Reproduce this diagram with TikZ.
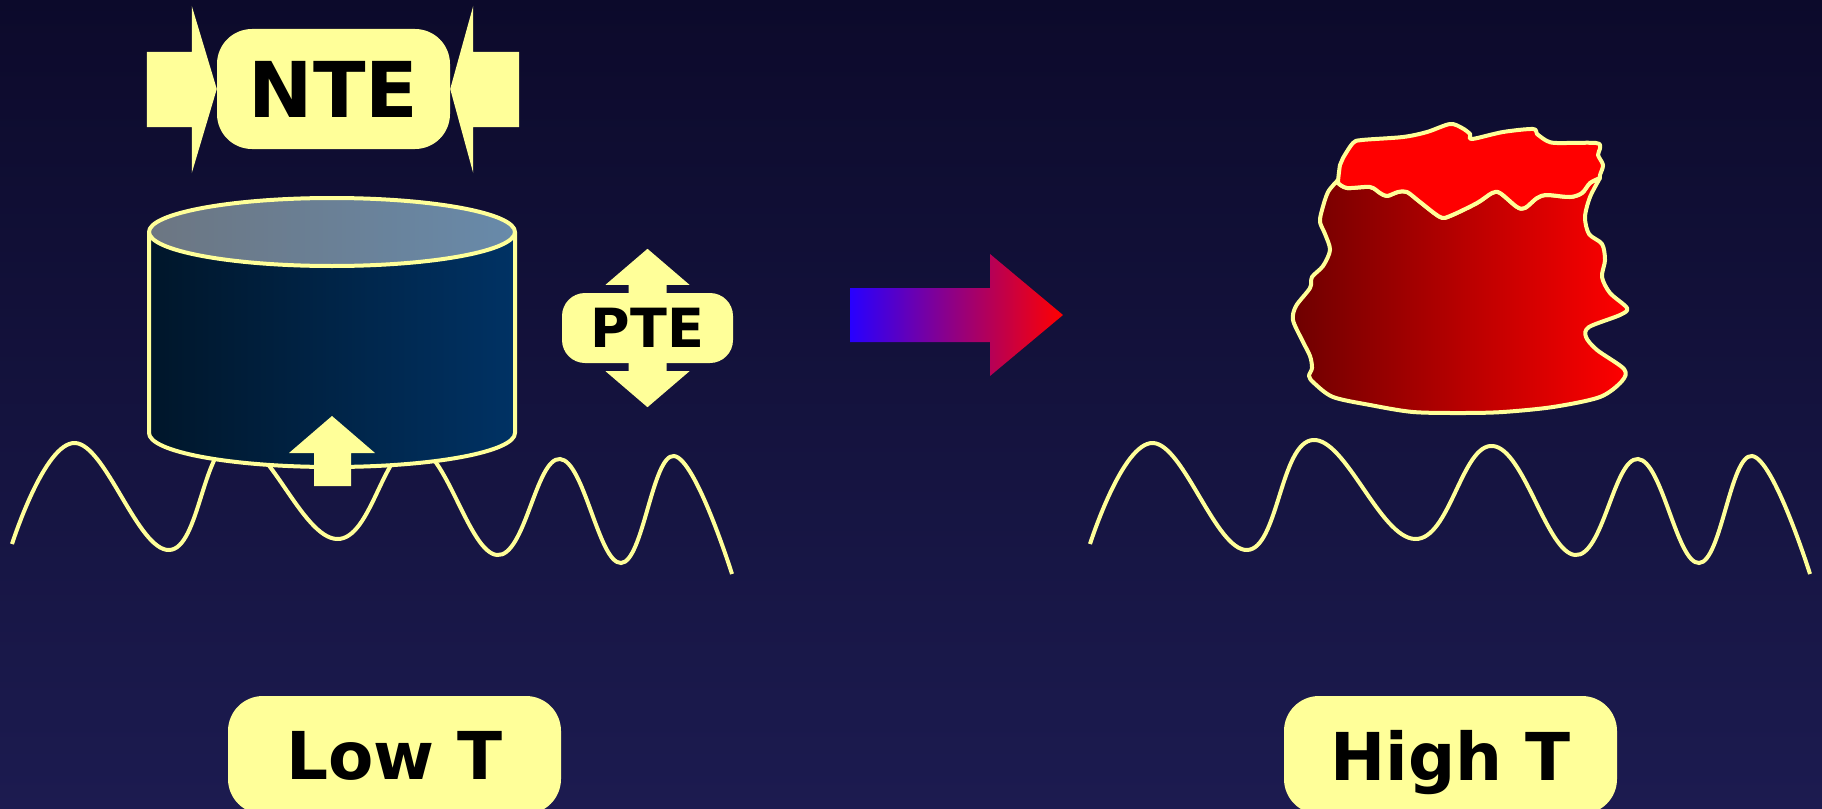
\documentclass[tikz,border=0pt]{standalone}
\usepackage{fontspec}
\setmainfont{DejaVu Sans}

\definecolor{bgtop}{RGB}{12,10,43}
\definecolor{bgbot}{RGB}{28,27,80}
\definecolor{hl}{RGB}{255,255,153}
\definecolor{cylleft}{RGB}{0,22,42}
\definecolor{cylright}{RGB}{0,50,100}
\definecolor{lidleft}{RGB}{108,118,130}
\definecolor{lidright}{RGB}{104,138,170}
\definecolor{hotleft}{RGB}{110,0,0}
\definecolor{arrowblue}{RGB}{40,0,255}
\definecolor{arrowmid}{RGB}{200,0,190}

\tikzset{
	tag/.style={fill=hl, rounded corners=35pt, inner sep=0pt, text depth=0pt, font=\bfseries},
	outline/.style={draw=hl, line width=4pt, line join=round},
	wave/.style={draw=hl, line width=4pt},
}

\begin{document}
\begin{tikzpicture}[x=1pt, y=-1pt]
	\useasboundingbox (0,0) rectangle (1822,808);
	\clip (0,0) rectangle (1822,808);
	\shade[top color=bgtop, bottom color=bgbot] (0,0) rectangle (1822,808);

	% the two waves
	\foreach \dx in {0,1078}
		\draw[wave, xshift=\dx pt] plot[smooth, tension=0.7] coordinates {(12,544) (75,443) (169,550) (235,440) (337,539) (415,446) (497,555) (560,459) (621,563) (674,456) (732,574)};

	% cold cylinder
	\shade[left color=cylleft, right color=cylright] (149,232) -- (149,433) arc[start angle=180, end angle=360, x radius=183pt, y radius=34pt] -- (515,232) -- cycle;
	\draw[outline] (149,232) -- (149,433) arc[start angle=180, end angle=360, x radius=183pt, y radius=34pt] -- (515,232);
	\shade[left color=lidleft, right color=lidright] (332,232) ellipse[x radius=183pt, y radius=34pt];
	\draw[outline] (332,232) ellipse[x radius=183pt, y radius=34pt];
	\fill[hl] (332,416) -- (375,453) -- (351,453) -- (351,486) -- (314,486) -- (314,453) -- (289,453) -- cycle;

	% NTE
	\node[tag, minimum width=233pt, minimum height=120pt, font=\bfseries\fontsize{77}{80}\selectfont] (nte) at (333.5,89) {NTE};
	\fill[hl] (nte.west) -- ++(-25,-83) -- ++(0,46) -- ++(-45,0) -- ++(0,75) -- ++(45,0) -- ++(0,46) -- cycle;
	\fill[hl] (nte.east) -- ++(23,-83) -- ++(0,46) -- ++(46,0) -- ++(0,75) -- ++(-46,0) -- ++(0,46) -- cycle;

	% PTE
	\node[tag, rounded corners=23pt, minimum width=171pt, minimum height=70pt, font=\bfseries\fontsize{54}{60}\selectfont] (pte) at (647.5,328) {PTE};
	\fill[hl] ([xshift=-19pt]pte.north) -- ++(0,-8) -- ++(-23,0) -- ++(42,-36) -- ++(42,36) -- ++(-23,0) -- ++(0,8) -- cycle;
	\fill[hl] ([xshift=-19pt]pte.south) -- ++(0,8) -- ++(-23,0) -- ++(42,36) -- ++(42,-36) -- ++(-23,0) -- ++(0,-8) -- cycle;

	% heating arrow
	\shade[left color=arrowblue, middle color=arrowmid, right color=red] (850,288) -- (990,288) -- (990,254) -- (1063,315) -- (990,376) -- (990,342) -- (850,342) -- cycle;

	% melted lump
	\shade[left color=hotleft, right color=red, outline] plot[smooth, tension=0.5] coordinates {(1338,180) (1328,192) (1322,210) (1320,222) (1325,234) (1330,250) (1323,266) (1312,277) (1310,288) (1296,306) (1293,320) (1302,340) (1310,356) (1312,368) (1309,376) (1314,383) (1333,397) (1370,405) (1413,412) (1463,413) (1503,412) (1553,407) (1600,397) (1622,381) (1624,369) (1597,350) (1586,337) (1589,327) (1620,315) (1627,308) (1610,293) (1602,277) (1605,260) (1602,244) (1589,234) (1585,217) (1590,197) (1600,178)}
		-- plot[smooth, tension=0.5] coordinates {(1600,178) (1590,183) (1582,193) (1570,197) (1547,195) (1537,198) (1525,208) (1517,207) (1500,193) (1492,193) (1477,203) (1450,216) (1440,217) (1420,202) (1407,192) (1398,192) (1387,196) (1380,193) (1370,187) (1347,188) (1338,183)} -- cycle;
	\filldraw[fill=red, outline] plot[smooth, tension=0.5] coordinates {(1338,181) (1340,165) (1343,158) (1353,143) (1362,140) (1403,137) (1427,132) (1450,124) (1462,128) (1470,134) (1472,139) (1503,132) (1533,129) (1537,134) (1547,141) (1557,143) (1596,143) (1600,148) (1598,155) (1603,165) (1600,175) (1600,178)}
		-- plot[smooth, tension=0.5] coordinates {(1600,178) (1590,183) (1582,193) (1570,197) (1547,195) (1537,198) (1525,208) (1517,207) (1500,193) (1492,193) (1477,203) (1450,216) (1440,217) (1420,202) (1407,192) (1398,192) (1387,196) (1380,193) (1370,187) (1347,188) (1338,183)} -- cycle;

	% labels
	\node[tag, minimum width=333pt, minimum height=118pt, font=\bfseries\fontsize{66}{70}\selectfont] (lowt) at (394.5,755) {Low T};
	\node[tag, minimum width=333pt, minimum height=118pt, font=\bfseries\fontsize{66}{70}\selectfont] (hight) at (1450.5,755) {High T};
\end{tikzpicture}
\end{document}
